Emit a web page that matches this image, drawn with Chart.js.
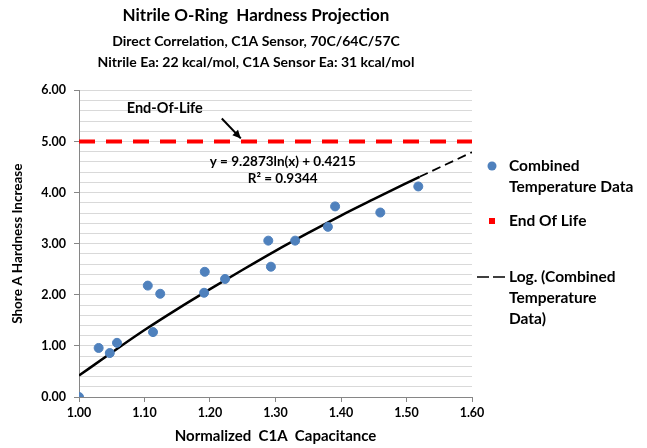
<!DOCTYPE html>
<html>
<head>
<meta charset="utf-8">
<script src="https://cdn.jsdelivr.net/npm/chart.js@4"></script>
<style>
  html, body { margin: 0; padding: 0; background: #fff; }
  #wrap { width: 647px; height: 448px; position: relative; }
</style>
</head>
<body>
<div id="wrap"><canvas id="hardnessChart"></canvas></div>
<script>
// measured points (normalized capacitance vs hardness increase)
const capacitance = [1.000, 1.030, 1.047, 1.058, 1.105, 1.113, 1.124, 1.192, 1.191, 1.223, 1.289, 1.293, 1.330, 1.380, 1.391, 1.460, 1.518];
const hardness = [0.00, 0.96, 0.86, 1.06, 2.18, 1.27, 2.02, 2.45, 2.04, 2.31, 3.06, 2.55, 3.06, 3.33, 3.73, 3.61, 4.12];

// end of life limit
const eolX = [1.00, 1.60];
const eolY = [5.00, 5.00];

// log trend line (solid part, then dashed projection)
const trendX = [1.00, 1.05, 1.10, 1.15, 1.20, 1.25, 1.30, 1.35, 1.40, 1.45, 1.52];
const trendY = [0.42, 0.87, 1.31, 1.72, 2.11, 2.49, 2.86, 3.21, 3.55, 3.87, 4.31];
const projX = [1.52, 1.56, 1.60];
const projY = [4.31, 4.55, 4.79];

const seriesNames = ['Combined Temperature Data', 'End Of Life', 'Log. (Combined Temperature Data)'];
const legendLines = [['Combined', 'Temperature Data'], ['End Of Life'], ['Log. (Combined', 'Temperature', 'Data)']];

const FONT = "Lato, 'Liberation Sans', sans-serif";

function toPoints(xs, ys) {
    return xs.map((x, i) => ({ x: x, y: ys[i] }));
}

function isMajor(v) {
    return Math.abs(v - Math.round(v)) < 1e-6;
}

const annotationPlugin = {
    id: 'notes',
    afterDatasetsDraw(chart) {
        const ctx = chart.ctx;
        const xs = chart.scales.x, ys = chart.scales.y;
        ctx.save();
        ctx.fillStyle = '#000';
        ctx.textAlign = 'center';
        ctx.textBaseline = 'middle';

        // End-Of-Life label + arrow
        ctx.font = 'bold 14.5px ' + FONT;
        ctx.fillText('End-Of-Life', xs.getPixelForValue(1.131), ys.getPixelForValue(5.64));
        const ax1 = xs.getPixelForValue(1.218), ay1 = ys.getPixelForValue(5.45);
        const ax2 = xs.getPixelForValue(1.247), ay2 = ys.getPixelForValue(5.06);
        ctx.strokeStyle = '#000';
        ctx.lineWidth = 2;
        ctx.beginPath();
        ctx.moveTo(ax1, ay1);
        ctx.lineTo(ax2, ay2);
        ctx.stroke();
        const ang = Math.atan2(ay2 - ay1, ax2 - ax1);
        ctx.beginPath();
        ctx.moveTo(ax2, ay2);
        ctx.lineTo(ax2 - 9 * Math.cos(ang - 0.45), ay2 - 9 * Math.sin(ang - 0.45));
        ctx.lineTo(ax2 - 9 * Math.cos(ang + 0.45), ay2 - 9 * Math.sin(ang + 0.45));
        ctx.closePath();
        ctx.fill();

        // trend equation
        ctx.font = 'bold 13.5px ' + FONT;
        ctx.fillText('y = 9.2873ln(x) + 0.4215', xs.getPixelForValue(1.311), ys.getPixelForValue(4.61));
        ctx.fillText('R² = 0.9344', xs.getPixelForValue(1.311), ys.getPixelForValue(4.28));

        // legend on the right
        const lx = chart.chartArea.right + 20;
        const rowsY = [166, 221, 277];
        ctx.textAlign = 'left';
        ctx.font = 'bold 15.5px ' + FONT;
        legendLines.forEach((lines, i) => {
            const y0 = rowsY[i];
            if (i === 0) {
                ctx.fillStyle = '#4F81BD';
                ctx.beginPath();
                ctx.arc(lx, y0, 4.5, 0, Math.PI * 2);
                ctx.fill();
            } else if (i === 1) {
                ctx.fillStyle = '#ff0000';
                ctx.fillRect(lx - 3, y0 - 3, 6, 6);
            } else {
                ctx.strokeStyle = '#000';
                ctx.lineWidth = 1.5;
                ctx.beginPath();
                ctx.moveTo(lx - 15, y0); ctx.lineTo(lx - 3, y0);
                ctx.moveTo(lx + 1, y0); ctx.lineTo(lx + 13, y0);
                ctx.stroke();
            }
            ctx.fillStyle = '#000';
            lines.forEach((t, j) => ctx.fillText(t, lx + 17, y0 + j * 21));
        });
        ctx.restore();
    }
};

new Chart(document.getElementById('hardnessChart'), {
    type: 'scatter',
    data: {
        datasets: [
            {
                label: seriesNames[0],
                data: toPoints(capacitance, hardness),
                backgroundColor: '#4F81BD',
                borderColor: '#4F81BD',
                pointRadius: 4.5,
                order: 1
            },
            {
                label: seriesNames[1],
                data: toPoints(eolX, eolY),
                showLine: true,
                borderColor: '#ff0000',
                backgroundColor: '#ff0000',
                borderWidth: 4,
                borderDash: [16, 11],
                pointStyle: 'rect',
                pointRadius: 2,
                pointBorderWidth: 0,
                order: 3
            },
            {
                label: seriesNames[2],
                data: toPoints(trendX, trendY),
                showLine: true,
                borderColor: '#000',
                borderWidth: 2.5,
                cubicInterpolationMode: 'monotone',
                pointRadius: 0,
                order: 2
            },
            {
                label: seriesNames[2] + ' projection',
                data: toPoints(projX, projY),
                showLine: true,
                borderColor: '#000',
                borderWidth: 1.8,
                borderDash: [9, 5],
                cubicInterpolationMode: 'monotone',
                pointRadius: 0,
                order: 2
            }
        ]
    },
    options: {
        responsive: true,
        maintainAspectRatio: false,
        animation: false,
        layout: {
            padding: { left: 10, right: 145, top: 0, bottom: 3 }
        },
        scales: {
            x: {
                type: 'linear',
                min: 1.0,
                max: 1.6,
                ticks: {
                    stepSize: 0.1,
                    color: '#000',
                    font: { family: FONT, size: 12.5, weight: 'bold' },
                    callback: v => v.toFixed(2)
                },
                grid: { drawOnChartArea: false, tickLength: 5, tickColor: '#868686' },
                border: { color: '#868686' },
                title: {
                    display: true,
                    text: 'Normalized  C1A  Capacitance',
                    color: '#000',
                    font: { family: FONT, size: 15, weight: 'bold' },
                    padding: { top: 1, bottom: 0 }
                },
                afterFit: scale => { scale.height = 48; }
            },
            y: {
                min: 0,
                max: 6,
                ticks: {
                    stepSize: 0.2,
                    autoSkip: false,
                    padding: 8,
                    color: '#000',
                    font: { family: FONT, size: 12.5, weight: 'bold' },
                    callback: v => isMajor(v) ? v.toFixed(2) : ''
                },
                grid: {
                    color: '#d9d9d9',
                    tickLength: 5,
                    tickColor: c => (c.tick && isMajor(c.tick.value)) ? '#868686' : 'rgba(0,0,0,0)'
                },
                border: { color: '#868686' },
                title: {
                    display: true,
                    text: 'Shore A Hardness Increase',
                    color: '#000',
                    font: { family: FONT, size: 13.5, weight: 'bold' },
                    padding: { top: 0, bottom: 4 }
                },
                afterFit: scale => { scale.width = 69; }
            },
            // empty right-hand spacer so the titles centre over the plot + a bit
            yPad: {
                position: 'right',
                display: true,
                ticks: { display: false },
                grid: { display: false },
                border: { display: false },
                afterFit: scale => { scale.width = 30; }
            }
        },
        plugins: {
            legend: { display: false },
            tooltip: { enabled: false },
            title: {
                display: true,
                text: 'Nitrile O-Ring  Hardness Projection',
                color: '#000',
                font: { family: FONT, size: 17, weight: 'bold' },
                padding: { top: 5, bottom: 6 }
            },
            subtitle: {
                display: true,
                text: ['Direct Correlation, C1A Sensor, 70C/64C/57C', 'Nitrile Ea: 22 kcal/mol, C1A Sensor Ea: 31 kcal/mol'],
                color: '#000',
                font: { family: FONT, size: 14, weight: 'bold', lineHeight: 1.5 },
                padding: { top: 0, bottom: 17 }
            }
        }
    },
    plugins: [annotationPlugin]
});
</script>
</body>
</html>
